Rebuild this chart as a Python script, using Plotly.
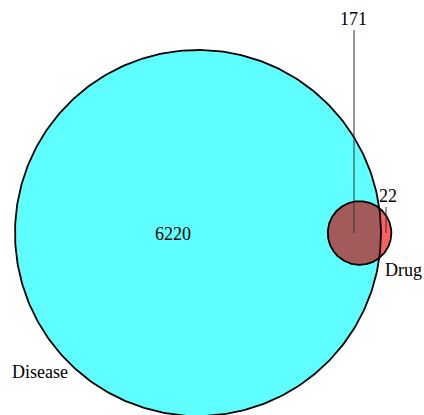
import math
import numpy as np
import plotly.graph_objects as go

# ---- data ----
set_names = ["Disease", "Drug"]
only_disease = 6220
overlap = 171
only_drug = 22

# ---- layout constants ----
W, H = 424, 415
big_center = (198.0, 233.0)
big_radius_px = 183.0
FONT = "Liberation Serif"
CYAN = "rgb(96,255,255)"
RED = "rgb(255,96,96)"
LENS = "rgb(163,90,90)"

total_disease = only_disease + overlap
total_drug = only_drug + overlap
k = big_radius_px / math.sqrt(total_disease)        # px per sqrt(count)
r1 = big_radius_px
r2 = k * math.sqrt(total_drug)
target = overlap * math.pi * k * k


def lens_area(d):
    a1 = r1 * r1 * math.acos((d * d + r1 * r1 - r2 * r2) / (2 * d * r1))
    a2 = r2 * r2 * math.acos((d * d + r2 * r2 - r1 * r1) / (2 * d * r2))
    a3 = 0.5 * math.sqrt(max(0.0, (-d + r1 + r2) * (d + r1 - r2) * (d - r1 + r2) * (d + r1 + r2)))
    return a1 + a2 - a3


lo, hi = r1 - r2 + 1e-6, r1 + r2 - 1e-6
for _ in range(200):
    mid = (lo + hi) / 2
    if lens_area(mid) > target:
        lo = mid
    else:
        hi = mid
d = (lo + hi) / 2

x1, y1 = big_center
x2, y2 = x1 + d, y1


def circle(cx, cy, r, n=400):
    t = np.linspace(0, 2 * np.pi, n)
    return cx + r * np.cos(t), cy + r * np.sin(t)


a = (d * d + r1 * r1 - r2 * r2) / (2 * d)
h = math.sqrt(r1 * r1 - a * a)
th1 = math.atan2(h, a)
th2 = math.atan2(h, a - d)
t1 = np.linspace(-th1, th1, 200)
t2 = np.linspace(th2, 2 * np.pi - th2, 200)
lx = np.concatenate([x1 + r1 * np.cos(t1), x2 + r2 * np.cos(t2)])
ly = np.concatenate([y1 + r1 * np.sin(t1), y2 + r2 * np.sin(t2)])

fig = go.Figure()
bx, by = circle(x1, y1, r1)
sx, sy = circle(x2, y2, r2)
fig.add_trace(go.Scatter(x=bx, y=by, mode="lines", fill="toself", fillcolor=CYAN,
                         line=dict(width=0), hoverinfo="skip"))
fig.add_trace(go.Scatter(x=sx, y=sy, mode="lines", fill="toself", fillcolor=RED,
                         line=dict(width=0), hoverinfo="skip"))
fig.add_trace(go.Scatter(x=lx, y=ly, mode="lines", fill="toself", fillcolor=LENS,
                         line=dict(width=0), hoverinfo="skip"))
fig.add_trace(go.Scatter(x=bx, y=by, mode="lines", line=dict(color="black", width=1.8),
                         hoverinfo="skip"))
fig.add_trace(go.Scatter(x=sx, y=sy, mode="lines", line=dict(color="black", width=1.8),
                         hoverinfo="skip"))

# leader lines
lens_label_x = 354
drug_only_x = 386
fig.add_trace(go.Scatter(x=[lens_label_x, lens_label_x], y=[30, 233], mode="lines",
                         line=dict(color="#333", width=1), hoverinfo="skip"))
fig.add_trace(go.Scatter(x=[drug_only_x, drug_only_x], y=[207, 233], mode="lines",
                         line=dict(color="#333", width=1), hoverinfo="skip"))

labels = [
    (str(only_disease), 173, 234),
    (str(overlap), 353, 19),
    (str(only_drug), 388, 196),
    (set_names[1], 403, 270),
    (set_names[0], 40, 372),
]
for txt, x, y in labels:
    fig.add_annotation(x=x, y=y, text=txt, showarrow=False,
                       font=dict(family=FONT, size=18, color="black"),
                       xanchor="center", yanchor="middle")

fig.update_layout(
    width=W, height=H, margin=dict(l=0, r=0, t=0, b=0),
    paper_bgcolor="white", plot_bgcolor="white", showlegend=False,
    font=dict(family=FONT),
    xaxis=dict(range=[0, W], visible=False, fixedrange=True),
    yaxis=dict(range=[H, 0], visible=False, fixedrange=True),
)
fig.write_html("out.html", config={"displayModeBar": False},
               post_script="document.body.style.margin='0';document.body.style.padding='0';")
